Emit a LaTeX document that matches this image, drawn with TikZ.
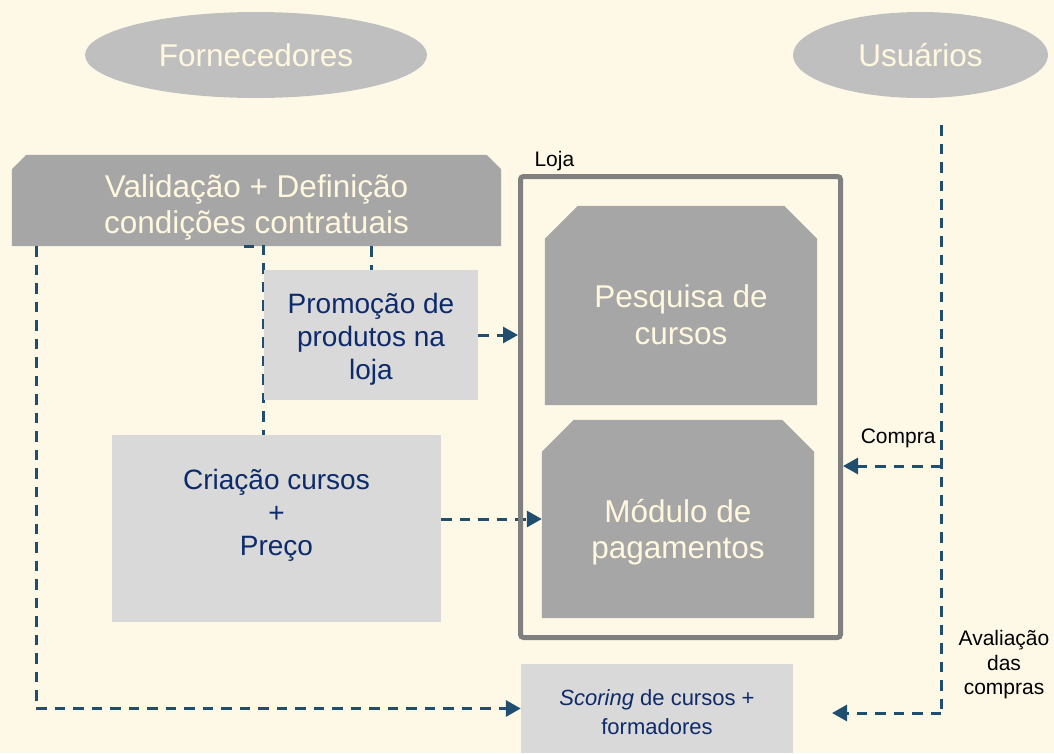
\documentclass[tikz,border=0pt]{standalone}
\usepackage{fontspec}
\setmainfont{Liberation Sans}
\usetikzlibrary{arrows.meta,shapes.geometric,backgrounds,calc}
\definecolor{bg}{HTML}{FEF9E7}
\definecolor{ellgray}{HTML}{BFBFBF}
\definecolor{boxdark}{HTML}{A6A6A6}
\definecolor{boxlight}{HTML}{D9D9D9}
\definecolor{framegray}{HTML}{808080}
\definecolor{conncol}{HTML}{1F4E6E}
\definecolor{navy}{HTML}{0D2A6B}
\definecolor{cream}{HTML}{FFF7DE}
\newcommand\chamfill[3]{\fill[#3] (#1.south west) -- ([yshift=-#2]#1.north west) -- ([xshift=#2]#1.north west) -- ([xshift=-#2]#1.north east) -- ([yshift=-#2]#1.north east) -- (#1.south east) -- cycle;}
\begin{document}
\begin{tikzpicture}[x=1pt,y=-1pt,
  bigtext/.style={text=cream,font=\fontsize{31.5}{36.5}\selectfont,align=center},
  navytext/.style={text=navy,font=\fontsize{28}{33}\selectfont,align=center},
  scoretext/.style={text=navy,font=\fontsize{22}{29}\selectfont,align=center},
  labeltext/.style={text=black,font=\fontsize{21}{24.5}\selectfont,align=center},
  actor/.style={ellipse,fill=ellgray,inner sep=0pt,bigtext},
  lightbox/.style={rectangle,fill=boxlight,inner sep=0pt},
  shell/.style={rectangle,inner sep=0pt},
  conn/.style={draw=conncol,line width=3pt,dash pattern=on 10.5pt off 8pt},
  arr/.style={conn,-{Triangle[length=15pt,width=16pt]}},
]
\useasboundingbox (0,0) rectangle (1054,753);

\node[actor,minimum width=342pt,minimum height=86pt] (forn) at (256,55) {Fornecedores};
\node[actor,minimum width=255pt,minimum height=86pt] (usu) at (920.5,55) {Usuários};
\node[shell,minimum width=489pt,minimum height=91pt] (valid) at (256.5,200.5) {};
\node[bigtext] (validtxt) at ([yshift=-7pt]valid.center) {Validação + Definição\\condições contratuais};
\node[lightbox,minimum width=214pt,minimum height=130pt] (promo) at (371,335) {};
\node[navytext] (promotxt) at ([yshift=-4pt]promo.center) {Promoção de\\produtos na\\loja};
\node[lightbox,minimum width=329pt,minimum height=187pt] (criacao) at (276.5,528.5) {};
\node[navytext] (criacaotxt) at ([yshift=13pt]criacao.center) {Criação cursos\\+\\Preço};
\node[shell,draw=framegray,line width=5pt,rounded corners=3pt,minimum width=320pt,minimum height=461pt] (loja) at (680.5,407) {};
\node[labeltext,anchor=base west] (lojalbl) at (531,166) {Loja};
\node[shell,minimum width=272pt,minimum height=199pt] (pesq) at (681,305.5) {};
\node[bigtext] (pesqtxt) at ([yshift=-9pt]pesq.center) {Pesquisa de\\cursos};
\node[shell,minimum width=272pt,minimum height=198pt] (modulo) at (678,519) {};
\node[bigtext] (modulotxt) at ([yshift=-13pt]modulo.center) {Módulo de\\pagamentos};
\node[lightbox,minimum width=272pt,minimum height=89pt] (scoring) at (657,708.5) {};
\node[scoretext] (scoringtxt) at ([yshift=-4pt]scoring.center) {\textit{Scoring} de cursos +\\formadores};
\node[labeltext,anchor=base east] (compralbl) at (939,443) {Compra};
\node[labeltext] (avallbl) at (1004,665) {Avaliação\\das\\compras};

\coordinate (utop) at (941,125);
\coordinate (ucompra) at (941,466);
\coordinate (ubot) at (941,713);
\coordinate (avalend) at (832,713);

\begin{scope}[on background layer]
  \fill[bg] (0,0) rectangle (1054,753);
  \chamfill{valid}{14.5pt}{boxdark}
  \chamfill{pesq}{33pt}{boxdark}
  \chamfill{modulo}{32pt}{boxdark}
  \draw[arr] ([xshift=-220.5pt]valid.south) |- (scoring.west);
  \draw[conn] ([xshift=-13pt]valid.south) -| ([xshift=-13pt]criacao.north);
  \draw[conn] (promo.north |- valid.south) -- (promo.north);
  \draw[arr] (promo.east) -- (loja.west |- promo.east);
  \draw[arr] (criacao.east |- modulo.west) -- (modulo.west);
  \draw[conn] (utop) -- (ubot);
  \draw[arr] (ubot) -- (avalend);
  \draw[arr] (ucompra) -- (loja.east |- ucompra);
\end{scope}
\end{tikzpicture}
\end{document}
